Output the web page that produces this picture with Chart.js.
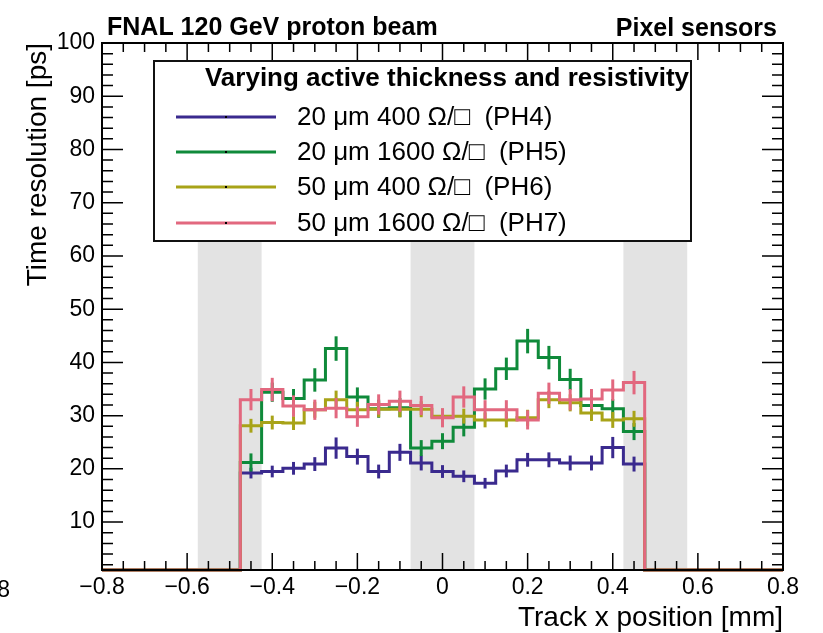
<!DOCTYPE html>
<html><head><meta charset="utf-8">
<script src="https://cdn.jsdelivr.net/npm/chart.js@4.4.1/dist/chart.umd.min.js"></script>
<style>html,body{margin:0;padding:0;background:#fff;}canvas{display:block;}</style>
</head><body>
<canvas id="c" width="823" height="633"></canvas>
<script>
// ---- data ----
const binCenters = [-0.45,-0.40,-0.35,-0.30,-0.25,-0.20,-0.15,-0.10,-0.05,0.00,0.05,0.10,0.15,0.20,0.25,0.30,0.35,0.40,0.45];
const binWidth = 0.05;
const emptyBinValue = 0;
const ph4 = [19.2,19.5,20.1,20.9,23.9,22.3,19.5,23.1,21.1,19.5,18.6,17.3,19.6,21.7,21.7,21.1,21.1,24.0,20.9];
const ph5 = [21.2,34.4,33.2,36.7,42.6,33.5,31.3,31.5,23.9,25.2,27.8,35.0,38.8,44.0,40.9,36.8,31.9,31.3,27.0];
const ph6 = [28.1,28.7,28.6,31.1,33.0,31.1,31.2,31.2,31.2,29.9,29.9,29.2,29.2,29.6,33.0,32.4,30.5,29.2,29.4];
const ph7 = [33.0,34.9,31.8,31.1,31.4,29.8,32.1,32.7,31.9,29.6,33.5,31.1,31.1,29.2,34.2,33.0,33.1,34.8,36.2];
const ph4Err = [1.0,1.1,1.2,1.3,2.0,1.5,1.3,1.6,1.4,1.2,1.1,1.0,1.2,1.3,1.4,1.4,1.4,2.0,1.4];
const ph5Err = [1.7,1.8,1.8,2.2,2.3,1.8,1.7,1.8,1.5,1.5,1.7,2.0,2.1,2.3,2.2,2.0,1.8,1.8,1.6];
const ph6Err = [1.3,1.3,1.3,1.5,1.7,1.5,1.5,1.5,1.5,1.4,1.4,1.4,1.4,1.5,1.6,1.6,1.5,1.5,1.5];
const ph7Err = [2.0,2.2,2.0,1.9,1.9,1.9,1.9,2.0,1.8,1.8,2.0,1.8,1.8,1.8,2.0,2.0,1.9,2.0,2.2];
const seriesLabels = ['20 \u03bcm 400 \u03a9/\u25a1  (PH4)','20 \u03bcm 1600 \u03a9/\u25a1  (PH5)','50 \u03bcm 400 \u03a9/\u25a1  (PH6)','50 \u03bcm 1600 \u03a9/\u25a1  (PH7)'];
const legendTitle = 'Varying active thickness and resistivity';
const xRange = [-0.8, 0.8];
const yRange = [1, 100];
const bandCenters = [-0.5, 0.0, 0.5];
const bandHalfWidth = 0.075;
const bandTop = 63;

// ---- style ----
const colors = ['#3a2a8e','#0f8a3a','#a8a318','#e2687f'];
const FONT = "'Liberation Sans', Arial, 'DejaVu Sans', sans-serif";

const seriesVals = [ph4, ph5, ph6, ph7];
const seriesErrs = [ph4Err, ph5Err, ph6Err, ph7Err];

function histPoints(vals) {
  const pts = [];
  const hi = binCenters[binCenters.length-1] + binWidth/2;
  const clamp = v => Math.max(v, yRange[0]);
  pts.push({x: xRange[0], y: clamp(emptyBinValue)});
  vals.forEach((v,i) => pts.push({x: binCenters[i] - binWidth/2, y: clamp(v)}));
  pts.push({x: hi, y: clamp(emptyBinValue)});
  pts.push({x: xRange[1], y: clamp(emptyBinValue)});
  return pts;
}

const datasets = seriesVals.map((vals, i) => ({
  label: seriesLabels[i],
  data: histPoints(vals),
  errors: seriesErrs[i],
  values: vals,
  borderColor: colors[i],
  backgroundColor: colors[i],
  borderWidth: 3,
  stepped: 'before',
  pointRadius: 0,
  fill: false,
  order: 4 - i,
  clip: 3,
  borderJoinStyle: 'miter',
  borderCapStyle: 'butt'
}));

const bandsPlugin = {
  id: 'bands',
  beforeDatasetsDraw(chart) {
    const {ctx, scales:{x, y}, chartArea} = chart;
    ctx.save();
    ctx.fillStyle = '#e3e3e3';
    bandCenters.forEach(c => {
      const x0 = x.getPixelForValue(c - bandHalfWidth);
      const x1 = x.getPixelForValue(c + bandHalfWidth);
      const yt = y.getPixelForValue(bandTop);
      ctx.fillRect(x0, yt, x1 - x0, chartArea.bottom - yt);
    });
    ctx.restore();
  }
};

const errPlugin = {
  id: 'errbars',
  afterDatasetDraw(chart, args) {
    const ds = chart.data.datasets[args.index];
    const {ctx, scales:{x, y}, chartArea} = chart;
    ctx.save();
    ctx.beginPath();
    ctx.rect(chartArea.left, chartArea.top, chartArea.width, chartArea.height);
    ctx.clip();
    ctx.strokeStyle = ds.borderColor;
    ctx.lineWidth = 3;
    ctx.lineCap = 'butt';
    ds.values.forEach((v, i) => {
      const px = x.getPixelForValue(binCenters[i]);
      ctx.beginPath();
      ctx.moveTo(px, y.getPixelForValue(v - ds.errors[i]));
      ctx.lineTo(px, y.getPixelForValue(v + ds.errors[i]));
      ctx.stroke();
    });
    ctx.restore();
  }
};

const framePlugin = {
  id: 'frame',
  afterDraw(chart) {
    const {ctx, scales:{x, y}, chartArea:a} = chart;
    ctx.save();
    ctx.strokeStyle = '#000';
    ctx.lineWidth = 2;
    ctx.strokeRect(a.left, a.top, a.width, a.height);
    ctx.lineWidth = 1.5;
    ctx.beginPath();
    const xMaj = x.ticks.map(t => t.value);
    for (let k = 0; k < xMaj.length; k++) {
      const px = x.getPixelForValue(xMaj[k]);
      ctx.moveTo(px, a.bottom); ctx.lineTo(px, a.bottom - 17);
      ctx.moveTo(px, a.top); ctx.lineTo(px, a.top + 17);
      if (k < xMaj.length - 1) {
        for (let m = 1; m < 4; m++) {
          const v = xMaj[k] + (xMaj[k+1] - xMaj[k]) * m / 4;
          const q = x.getPixelForValue(v);
          ctx.moveTo(q, a.bottom); ctx.lineTo(q, a.bottom - 9);
          ctx.moveTo(q, a.top); ctx.lineTo(q, a.top + 9);
        }
      }
    }
    for (let v = 2; v <= 100; v += 2) {
      const py = y.getPixelForValue(v);
      const len = (v % 10 === 0) ? 21 : 11;
      ctx.moveTo(a.left, py); ctx.lineTo(a.left + len, py);
      ctx.moveTo(a.right, py); ctx.lineTo(a.right - len, py);
    }
    ctx.stroke();

    // legend box
    const L = 154, T = 61, R = 691, B = 241;
    ctx.fillStyle = '#fff';
    ctx.fillRect(L, T, R - L, B - T);
    ctx.lineWidth = 2;
    ctx.strokeStyle = '#111';
    ctx.strokeRect(L, T, R - L, B - T);
    ctx.fillStyle = '#000';
    ctx.font = 'bold 26px ' + FONT;
    ctx.textAlign = 'center';
    ctx.textBaseline = 'middle';
    ctx.fillText(legendTitle, 447, 79);
    ctx.font = '26px ' + FONT;
    ctx.textAlign = 'left';
    const rows = [117, 152, 187, 223];
    seriesLabels.forEach((lab, i) => {
      ctx.strokeStyle = colors[i];
      ctx.lineWidth = 3;
      ctx.beginPath();
      ctx.moveTo(176, rows[i]); ctx.lineTo(276, rows[i]);
      ctx.stroke();
      ctx.fillStyle = '#000';
      ctx.fillRect(225, rows[i] - 1, 2, 2);
      ctx.fillText(lab, 297, rows[i] + 1);
    });

    // titles
    ctx.font = 'bold 25px ' + FONT;
    ctx.textBaseline = 'alphabetic';
    ctx.textAlign = 'left';
    ctx.fillText('FNAL 120 GeV proton beam', 107, 35);
    ctx.textAlign = 'right';
    ctx.fillText('Pixel sensors', 777, 36);
    ctx.font = '28px ' + FONT;
    ctx.fillText('Track x position [mm]', 783, 626);
    ctx.save();
    ctx.translate(46, 43);
    ctx.rotate(-Math.PI / 2);
    ctx.textAlign = 'right';
    ctx.fillText('Time resolution [ps]', 0, 0);
    ctx.restore();
    ctx.font = '23px ' + FONT;
    ctx.textAlign = 'right';
    ctx.fillText('0.8', 10, 597);
    ctx.restore();
  }
};

const tickFont = {family: FONT, size: 23};
new Chart(document.getElementById('c'), {
  type: 'line',
  data: { datasets },
  options: {
    responsive: false,
    animation: false,
    devicePixelRatio: 1,
    layout: { padding: { top: 43, right: 40, bottom: 0, left: 0 } },
    plugins: { legend: { display: false }, tooltip: { enabled: false } },
    scales: {
      x: {
        type: 'linear', min: xRange[0], max: xRange[1],
        grid: { display: false, drawTicks: false }, border: { display: false },
        ticks: {
          stepSize: 0.2, autoSkip: false, maxRotation: 0, color: '#000', font: tickFont, padding: 4,
          callback: v => { const r = Math.round(v * 10) / 10; return r === 0 ? '0' : (r < 0 ? '\u2212' : '') + Math.abs(r).toFixed(1); }
        },
        afterFit: s => { s.height = 63; }
      },
      y: {
        type: 'linear', min: yRange[0], max: yRange[1],
        grid: { display: false, drawTicks: false }, border: { display: false },
        ticks: {
          stepSize: 10, includeBounds: false, color: '#000', font: tickFont, padding: 7,
          callback: v => (v % 10 === 0 ? String(v) : '')
        },
        afterFit: s => { s.width = 102; }
      }
    }
  },
  plugins: [bandsPlugin, errPlugin, framePlugin]
});
</script>
</body></html>
